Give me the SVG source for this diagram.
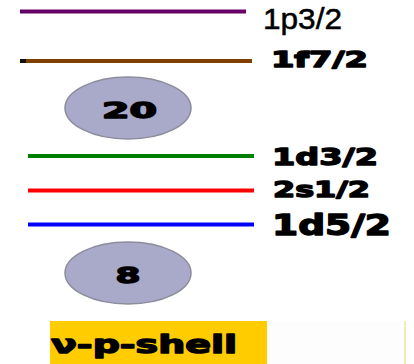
<svg xmlns="http://www.w3.org/2000/svg" width="414" height="364" viewBox="0 0 414 364">
  <style>
    .lvl { stroke-width: 4; fill: none; }
    .heavy { font-family: "DejaVu Sans", "Liberation Sans", sans-serif; font-weight: bold; fill: #000; stroke: #000; stroke-width: 1.4; stroke-linejoin: round; }
    .plain { font-family: "Liberation Sans", "DejaVu Sans", sans-serif; fill: #000; stroke: #000; stroke-width: 0.5; }
    .magic ellipse { fill: #a9a9c9; stroke: #8c8c9c; stroke-width: 1.5; }
  </style>
  <rect width="414" height="364" fill="#fff"/>

  <!-- single-particle levels -->
  <g id="levels">
    <g id="l1p32">
      <line class="lvl" x1="20" y1="11.5" x2="246" y2="11.5" stroke="#660066"/>
      <text class="plain" x="263" y="28.5" font-size="29" textLength="79" lengthAdjust="spacingAndGlyphs">1p3/2</text>
    </g>
    <g id="l1f72">
      <line class="lvl" x1="20" y1="61" x2="26" y2="61" stroke="#111"/>
      <line class="lvl" x1="26" y1="61" x2="252" y2="61" stroke="#7f4000"/>
      <text class="heavy" x="271" y="66.5" font-size="21" textLength="97" lengthAdjust="spacingAndGlyphs">1f7/2</text>
    </g>
    <g id="l1d32">
      <line class="lvl" x1="28" y1="156" x2="254" y2="156" stroke="#008000"/>
      <text class="heavy" x="272" y="164.5" font-size="23.5" textLength="106" lengthAdjust="spacingAndGlyphs">1d3/2</text>
    </g>
    <g id="l2s12">
      <line class="lvl" x1="28" y1="190.5" x2="254" y2="190.5" stroke="#ff0000"/>
      <text class="heavy" x="273" y="196.5" font-size="21" textLength="97" lengthAdjust="spacingAndGlyphs">2s1/2</text>
    </g>
    <g id="l1d52">
      <line class="lvl" x1="28" y1="224.5" x2="254" y2="224.5" stroke="#0000ff"/>
      <text class="heavy" x="272" y="234.5" font-size="27.5" textLength="119" lengthAdjust="spacingAndGlyphs">1d5/2</text>
    </g>
  </g>

  <!-- magic numbers -->
  <g id="magic20" class="magic">
    <ellipse cx="128" cy="108" rx="63" ry="31"/>
    <text class="heavy" x="129.5" y="117.5" font-size="21" text-anchor="middle" textLength="55" lengthAdjust="spacingAndGlyphs">20</text>
  </g>
  <g id="magic8" class="magic">
    <ellipse cx="128" cy="273" rx="63" ry="31"/>
    <text class="heavy" x="128" y="282.5" font-size="22" text-anchor="middle" textLength="25" lengthAdjust="spacingAndGlyphs">8</text>
  </g>

  <!-- shell label -->
  <g id="shell">
    <rect x="268" y="321" width="136" height="43" fill="#fdfdfd"/>
    <line x1="405" y1="321" x2="405" y2="364" stroke="#f3e3a0" stroke-width="1.5"/>
    <rect x="50" y="321" width="217" height="43" fill="#ffcc00"/>
    <text class="heavy" x="51" y="352.5" font-size="24.5" textLength="186" lengthAdjust="spacingAndGlyphs">ν-p-shell</text>
  </g>
</svg>
